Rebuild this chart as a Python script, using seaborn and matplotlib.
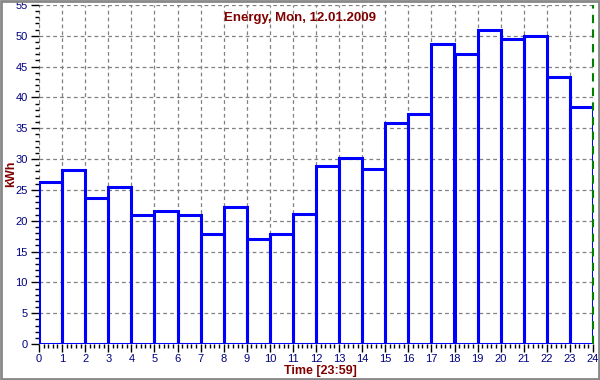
import pandas as pd
import matplotlib
matplotlib.use("Agg")
import matplotlib.pyplot as plt
from matplotlib.patches import Rectangle
from matplotlib.ticker import MultipleLocator
import seaborn as sns

# hourly energy values
hours = list(range(24))
kwh = [26.3, 28.3, 23.7, 25.5, 20.9, 21.5, 20.9, 17.85, 22.2, 17.0, 17.85, 21.05,
       28.9, 30.25, 28.4, 35.85, 37.3, 48.6, 47.0, 51.0, 49.5, 49.9, 43.3, 38.4]

title = "Energy, Mon, 12.01.2009"
xlabel = "Time [23:59]"
ylabel = "kWh"

sns.set_style("white")
plt.rcParams['font.family'] = ['Liberation Sans', 'DejaVu Sans']

dark_red = "#800000"
navy = "#000080"

df = pd.DataFrame({"hour": hours, "kwh": kwh})

fig = plt.figure(figsize=(6, 3.8), dpi=100)
ax = fig.add_axes([39 / 600, 36 / 380, 554 / 600, 339 / 380])

# one bin per hour (list, not array: seaborn compares bins to "auto")
sns.histplot(data=df, x="hour", weights="kwh", bins=list(range(25)), fill=False,
             color="#0000ff", linewidth=2.2, ax=ax, zorder=3)

ax.set_xlim(0, 24)
ax.set_ylim(0, 55)
ax.xaxis.set_major_locator(MultipleLocator(1))
ax.xaxis.set_minor_locator(MultipleLocator(0.2))
ax.yaxis.set_major_locator(MultipleLocator(5))
ax.yaxis.set_minor_locator(MultipleLocator(1))

ax.grid(True, which="major", color="#808080", linestyle=(0, (3, 2.5)), linewidth=0.9)
ax.set_axisbelow(True)
for s in ax.spines.values():
    s.set_visible(False)

ax.tick_params(axis="both", which="both", bottom=True, left=True, direction="out",
               color="black", width=1)
ax.tick_params(axis="both", which="major", length=6, labelcolor=navy, labelsize=8, pad=2)
ax.tick_params(axis="both", which="minor", length=3)
ax.tick_params(axis="x", which="major", pad=1)

# green dashed marker at end of day
ax.axvline(24, color="#008000", linestyle=(0, (4, 3)), linewidth=1.5, zorder=4, clip_on=False)

ax.set_xlabel("")
ax.set_ylabel("")
fig.text(320 / 600, 1 - 371 / 380, xlabel, color=dark_red, fontsize=9,
         fontweight="bold", ha="center", va="center")
fig.text(11 / 600, 1 - 174 / 380, ylabel, color=dark_red, fontsize=9,
         fontweight="bold", ha="center", va="center", rotation=90)
fig.text(300 / 600, 1 - 18 / 380, title, color=dark_red, fontsize=9.5,
         fontweight="bold", ha="center", va="center")

fig.patches.append(Rectangle((0.0015, 0.003), 0.997, 0.994, transform=fig.transFigure,
                             fill=False, edgecolor="#888888", linewidth=2))

plt.savefig("out.png", dpi=100)
plt.close()
